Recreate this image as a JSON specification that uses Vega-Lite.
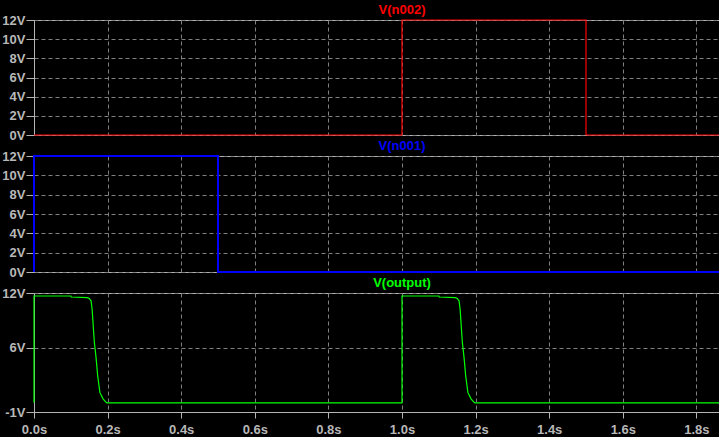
{
  "$schema": "https://vega.github.io/schema/vega-lite/v6.json",
  "background": "#000000",
  "padding": {"left": 1, "top": 3, "right": 0, "bottom": 0},
  "datasets": {
    "n002": [
      {"t": 0, "v": 0}, {"t": 1.0, "v": 0}, {"t": 1.0, "v": 12}, {"t": 1.5, "v": 12}, {"t": 1.5, "v": 0}, {"t": 2.0, "v": 0}
    ],
    "n001": [
      {"t": 0, "v": 0}, {"t": 0, "v": 12}, {"t": 0.5, "v": 12}, {"t": 0.5, "v": 0}, {"t": 2.0, "v": 0}
    ],
    "output": [
      {"t": 0, "v": 0}, {"t": 0.0, "v": 11.67}, {"t": 0.1, "v": 11.67}, {"t": 0.101, "v": 11.56}, {"t": 0.145, "v": 11.49}, {"t": 0.15, "v": 11.4}, {"t": 0.155, "v": 11.15}, {"t": 0.158, "v": 10.2}, {"t": 0.161, "v": 8.4}, {"t": 0.164, "v": 6.6}, {"t": 0.169, "v": 4.8}, {"t": 0.173, "v": 2.96}, {"t": 0.179, "v": 1.14}, {"t": 0.188, "v": 0.41}, {"t": 0.197, "v": 0.02}, {"t": 0.2, "v": 0},
      {"t": 1.0, "v": 0}, {"t": 1.0, "v": 11.67}, {"t": 1.1, "v": 11.67}, {"t": 1.101, "v": 11.56}, {"t": 1.145, "v": 11.49}, {"t": 1.15, "v": 11.4}, {"t": 1.155, "v": 11.15}, {"t": 1.158, "v": 10.2}, {"t": 1.161, "v": 8.4}, {"t": 1.164, "v": 6.6}, {"t": 1.169, "v": 4.8}, {"t": 1.173, "v": 2.96}, {"t": 1.179, "v": 1.14}, {"t": 1.188, "v": 0.41}, {"t": 1.197, "v": 0.02}, {"t": 1.2, "v": 0},
      {"t": 2.0, "v": 0}
    ]
  },
  "config": {
    "view": {"stroke": "#b4b4b4", "strokeWidth": 1},
    "axis": {
      "labelFont": "Liberation Sans",
      "labelFontSize": 13,
      "labelFontWeight": "bold",
      "labelColor": "#b8b8b8",
      "labelFlush": false,
      "domainColor": "#b4b4b4",
      "tickColor": "#b4b4b4",
      "gridColor": "#808080",
      "gridDash": [4, 3],
      "gridOpacity": 1,
      "gridWidth": 1,
      "title": null
    },
    "title": {"font": "Liberation Sans", "fontSize": 13, "fontWeight": "bold", "anchor": "middle", "offset": -3, "frame": "group"}
  },
  "vconcat": [
    {
      "width": 736, "height": 115,
      "title": {"text": "V(n002)", "color": "#ff0000"},
      "data": {"name": "n002"},
      "mark": {"type": "line", "color": "#ff0000", "strokeWidth": 1.2, "interpolate": "linear"},
      "encoding": {
        "x": {"field": "t", "type": "quantitative", "scale": {"domain": [0, 2], "nice": false},
              "axis": {"values": [0, 0.2, 0.4, 0.6, 0.8, 1.0, 1.2, 1.4, 1.6, 1.8, 2.0], "labels": false, "ticks": false, "domain": false, "grid": true}},
        "y": {"field": "v", "type": "quantitative", "scale": {"domain": [0, 12], "nice": false},
              "axis": {"values": [0, 2, 4, 6, 8, 10, 12], "labelExpr": "datum.value + 'V'", "tickSize": 8, "labelPadding": 1, "grid": true}}
      }
    },
    {
      "width": 736, "height": 116,
      "title": {"text": "V(n001)", "color": "#0000ff"},
      "data": {"name": "n001"},
      "mark": {"type": "line", "color": "#0000ff", "strokeWidth": 2, "interpolate": "linear"},
      "encoding": {
        "x": {"field": "t", "type": "quantitative", "scale": {"domain": [0, 2], "nice": false},
              "axis": {"values": [0, 0.2, 0.4, 0.6, 0.8, 1.0, 1.2, 1.4, 1.6, 1.8, 2.0], "labels": false, "ticks": false, "domain": false, "grid": true}},
        "y": {"field": "v", "type": "quantitative", "scale": {"domain": [0, 12], "nice": false},
              "axis": {"values": [0, 2, 4, 6, 8, 10, 12], "labelExpr": "datum.value + 'V'", "tickSize": 8, "labelPadding": 1, "grid": true}}
      }
    },
    {
      "width": 736, "height": 119,
      "title": {"text": "V(output)", "color": "#00ff00"},
      "data": {"name": "output"},
      "mark": {"type": "line", "color": "#00ff00", "strokeWidth": 1.2, "interpolate": "linear"},
      "encoding": {
        "x": {"field": "t", "type": "quantitative", "scale": {"domain": [0, 2], "nice": false},
              "axis": {"values": [0, 0.2, 0.4, 0.6, 0.8, 1.0, 1.2, 1.4, 1.6, 1.8, 2.0], "labelExpr": "format(datum.value, '.1f') + 's'", "tickSize": 6, "labelPadding": 5, "domain": true, "grid": true}},
        "y": {"field": "v", "type": "quantitative", "scale": {"domain": [-1, 12], "nice": false},
              "axis": {"values": [-1, 6, 12], "labelExpr": "datum.value + 'V'", "tickSize": 8, "labelPadding": 1, "grid": true}}
      }
    }
  ],
  "spacing": 21,
  "bounds": "flush"
}
